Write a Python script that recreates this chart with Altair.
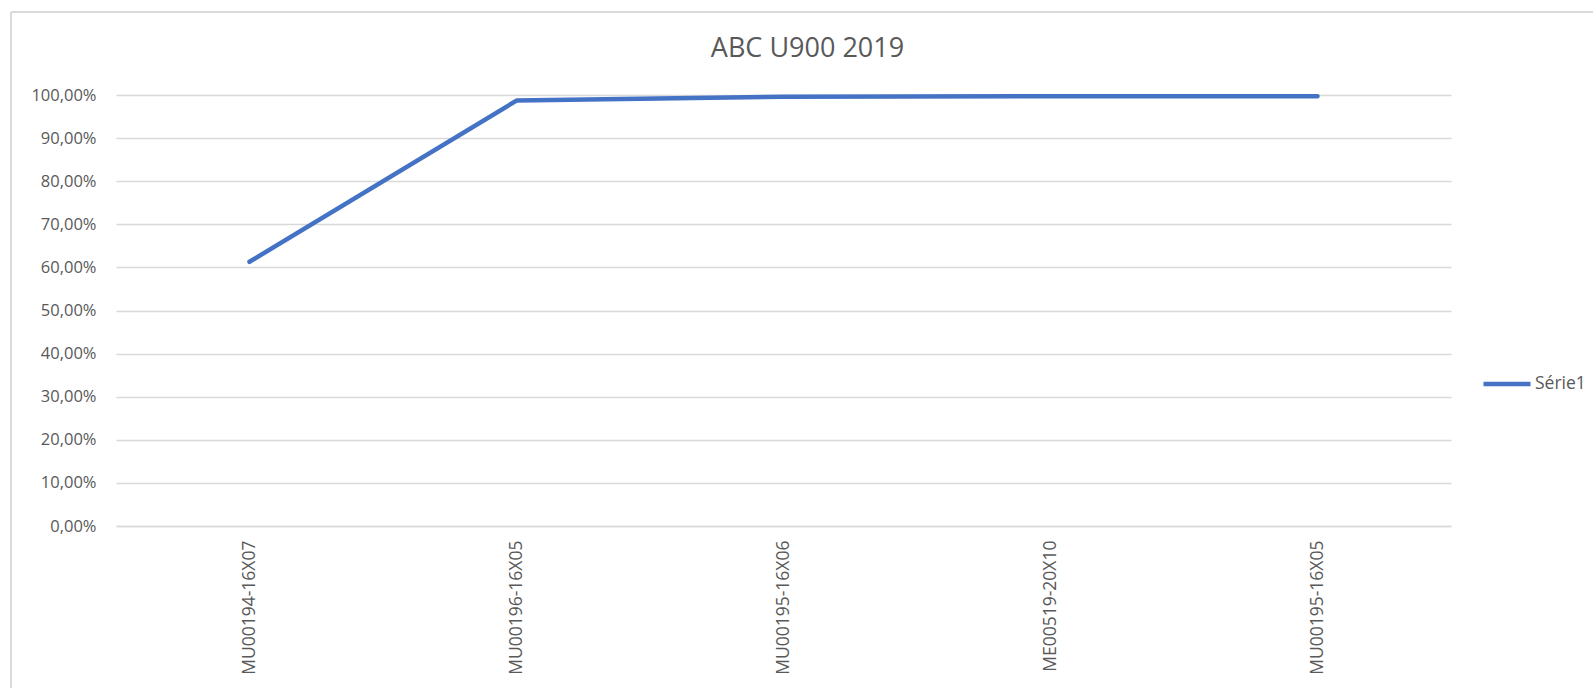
import altair as alt
import pandas as pd

# Series data
categories = ["MU00194-16X07", "MU00196-16X05", "MU00195-16X06", "ME00519-20X10", "MU00195-16X05"]
values = [0.613, 0.987, 0.996, 0.997, 0.997]
series_name = "Série1"
chart_title = "ABC U900 2019"
y_ticks = [0.0, 0.1, 0.2, 0.3, 0.4, 0.5, 0.6, 0.7, 0.8, 0.9, 1.0]

df = pd.DataFrame({"cat": categories, "val": values, "serie": [series_name] * len(categories)})

FONT = "Open Sans"
TEXT = "#595959"
GRID = "#d9d9d9"
BLUE = "#4472C4"

W, H = 1335, 431
PAD_L, PAD_T = 116, 95
TOTAL_W, TOTAL_H = 1593, 688

line = alt.Chart(df).mark_line(strokeWidth=4.5, strokeCap="round", strokeJoin="round").encode(
    x=alt.X(
        "cat:N",
        sort=categories,
        scale=alt.Scale(type="point", padding=0.5),
        axis=alt.Axis(
            title=None,
            labelAngle=270,
            labelFontSize=17.5,
            labelColor=TEXT,
            labelFont=FONT,
            labelPadding=14,
            ticks=False,
            domain=True,
            domainColor=GRID,
            domainWidth=1.5,
            grid=False,
        ),
    ),
    y=alt.Y(
        "val:Q",
        scale=alt.Scale(domain=[0, 1], nice=False, zero=True),
        axis=alt.Axis(
            title=None,
            values=y_ticks,
            labelExpr="replace(format(datum.value, '.2%'), '.', ',')",
            labelFontSize=16.5,
            labelColor=TEXT,
            labelFont=FONT,
            labelPadding=20,
            ticks=False,
            domain=False,
            grid=True,
            gridColor=GRID,
            gridWidth=1.5,
        ),
    ),
    color=alt.Color(
        "serie:N",
        scale=alt.Scale(domain=[series_name], range=[BLUE]),
        legend=alt.Legend(
            title=None,
            orient="none",
            legendX=1365,
            legendY=263,
            symbolType="stroke",
            symbolSize=2209,
            symbolStrokeWidth=4.5,
            labelOffset=2,
            labelFontSize=17.5,
            labelColor=TEXT,
            labelFont=FONT,
            padding=0,
        ),
    ),
)

# Outer chart frame (top and left edges)
frame_top = alt.Chart(df).mark_rule(color=GRID, strokeWidth=2).encode(
    x=alt.value(11 - PAD_L), x2=alt.value(TOTAL_W - PAD_L), y=alt.value(12 - PAD_T)
)
frame_left = alt.Chart(df).mark_rule(color=GRID, strokeWidth=2).encode(
    x=alt.value(11 - PAD_L), y=alt.value(12 - PAD_T), y2=alt.value(TOTAL_H - PAD_T)
)

# Chart heading above the plot area
heading = alt.Chart(pd.DataFrame({"t": [chart_title]})).mark_text(
    font=FONT, fontSize=27, color=TEXT, align="center", baseline="alphabetic"
).encode(
    text="t:N",
    x=alt.value(807.5 - PAD_L),
    y=alt.value(57 - PAD_T),
)

chart = alt.layer(frame_top, frame_left, heading, line).properties(
    width=W,
    height=H,
    autosize=alt.AutoSizeParams(type="none"),
    padding={"left": PAD_L, "top": PAD_T, "right": TOTAL_W - PAD_L - W, "bottom": TOTAL_H - PAD_T - H},
    background="white",
).configure_view(stroke=None)

chart.save("out.html", embed_options={"renderer": "svg", "actions": False})
